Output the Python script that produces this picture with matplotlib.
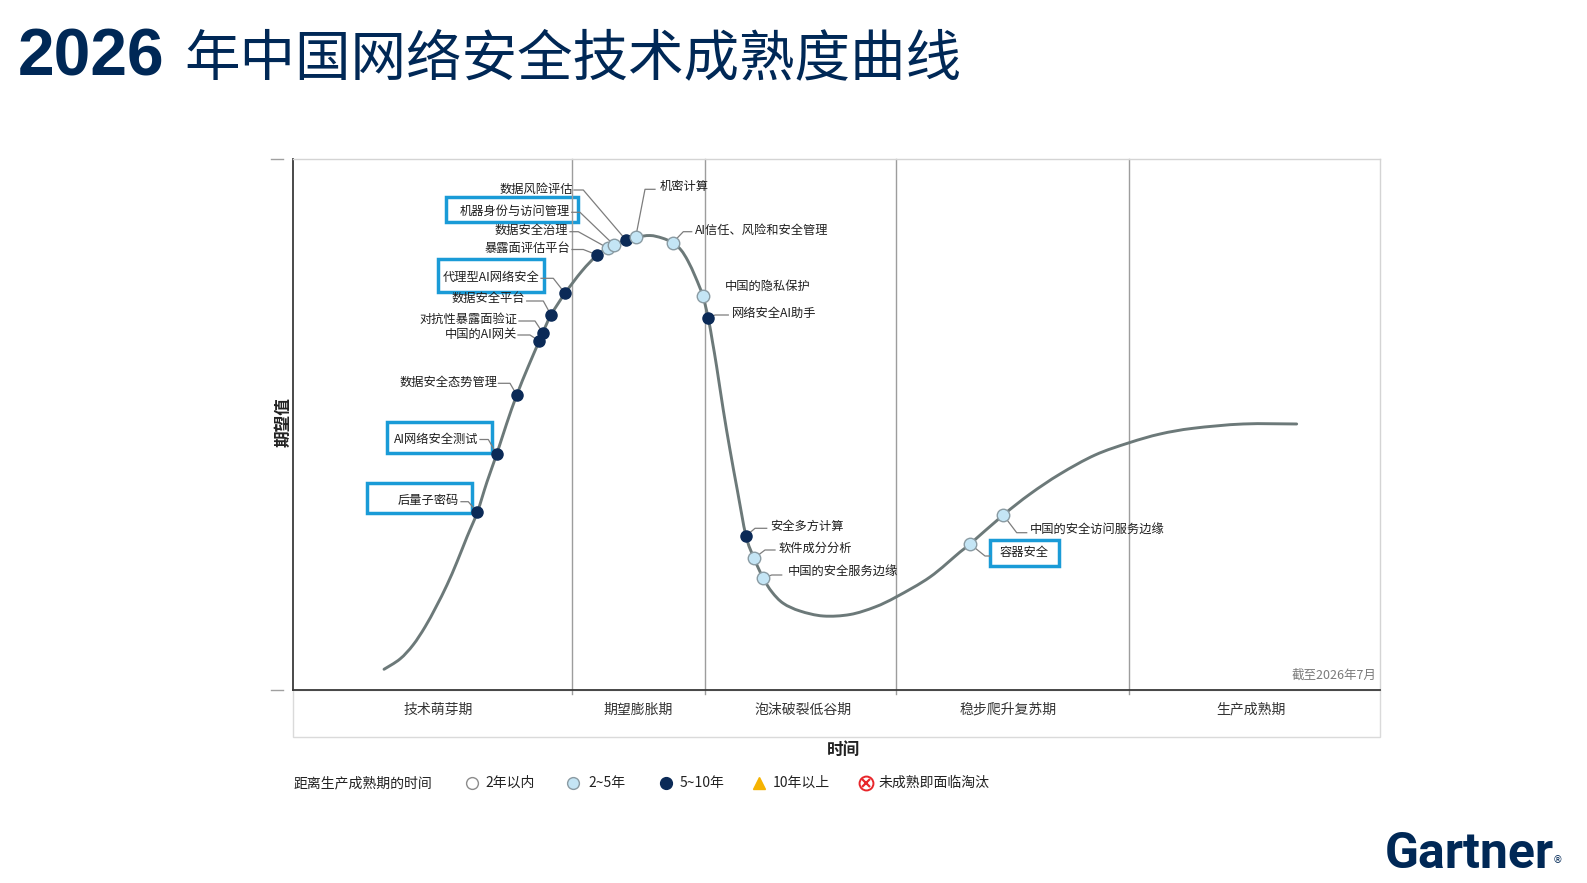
import matplotlib
matplotlib.use("Agg")
import matplotlib.pyplot as plt
from matplotlib.patches import Rectangle, PathPatch
from matplotlib.path import Path

plt.rcParams['font.family'] = ['Noto Sans CJK SC', 'DejaVu Sans']

# ---------------- data ----------------
title_num = "2026"
title_text = "年中国网络安全技术成熟度曲线"

# hype curve (time 0-100, expectation 0-100)
curve_x = [8.42, 9.89, 11.09, 12.19, 13.20, 14.21, 15.13, 16.05, 17.00, 17.89,
           18.79, 19.69, 20.63, 21.67, 22.70, 23.02, 23.78, 25.07, 26.63, 28.04,
           29.05, 29.58, 30.68, 31.57, 32.89, 33.99, 34.98, 35.74, 36.38, 37.07,
           37.74, 38.25, 38.64, 39.02, 39.63, 40.25, 40.92, 41.72, 42.46, 43.31,
           44.11, 45.15, 46.69, 48.83, 51.29, 53.59, 55.58, 58.65, 61.41, 62.33,
           65.39, 67.85, 70.61, 73.83, 76.98, 79.81, 82.87, 87.47, 92.38]
curve_y = [3.83, 5.77, 8.41, 11.80, 15.57, 19.71, 24.05, 28.76, 33.42, 39.13,
           44.40, 50.06, 55.52, 60.80, 65.70, 67.26, 70.60, 74.69, 78.89, 81.91,
           83.17, 83.79, 84.73, 85.24, 85.58, 85.11, 84.23, 82.85, 80.78, 77.76,
           74.24, 69.98, 65.51, 60.86, 52.70, 45.16, 37.62, 28.95, 24.75, 20.98,
           18.39, 16.26, 14.81, 13.87, 14.15, 15.57, 17.51, 21.22, 25.93, 27.44,
           32.91, 36.86, 40.63, 44.21, 46.53, 48.17, 49.25, 50.06, 50.06]

tech_names = ['后量子密码', 'AI网络安全测试', '数据安全态势管理', '中国的AI网关',
              '对抗性暴露面验证', '数据安全平台', '代理型AI网络安全', '暴露面评估平台',
              '数据安全治理', '机器身份与访问管理', '数据风险评估', '机密计算',
              'AI信任、风险和安全管理', '中国的隐私保护', '网络安全AI助手',
              '安全多方计算', '软件成分分析', '中国的安全服务边缘', '容器安全',
              '中国的安全访问服务边缘']
tech_x = [17.00, 18.79, 20.63, 22.70, 23.02, 23.78, 25.07, 28.04, 29.05, 29.58,
          30.68, 31.57, 34.98, 37.74, 38.25, 41.72, 42.46, 43.31, 62.33, 65.39]
tech_y = [33.42, 44.40, 55.52, 65.70, 67.26, 70.60, 74.69, 81.91, 83.17, 83.79,
          84.73, 85.24, 84.23, 74.24, 69.98, 28.95, 24.75, 20.98, 27.44, 32.91]
tech_cat = ['5~10年', '5~10年', '5~10年', '5~10年', '5~10年', '5~10年', '5~10年',
            '5~10年', '2~5年', '2~5年', '5~10年', '2~5年', '2~5年', '2~5年',
            '5~10年', '5~10年', '2~5年', '2~5年', '2~5年', '2~5年']
boxed_names = ['后量子密码', 'AI网络安全测试', '代理型AI网络安全', '机器身份与访问管理', '容器安全']

phase_bounds = [0, 25.70, 37.99, 55.49, 76.91, 100]
phase_names = ['技术萌芽期', '期望膨胀期', '泡沫破裂低谷期', '稳步爬升复苏期', '生产成熟期']

legend_title = '距离生产成熟期的时间'
legend_labels = ['2年以内', '2~5年', '5~10年', '10年以上', '未成熟即面临淘汰']
x_label = '时间'
y_label = '期望值'
as_of = '截至2026年7月'

# ---------------- styles / layout ----------------
W, H = 1587, 883
NAVY = '#0b2a57'
LIGHT = '#c4e5f5'
BLUE = '#1a9bd7'
CURVE = '#6c7979'

cat_style = {
    '2年以内': dict(marker='o', mfc='white', mec='#8c8c8c', ms=8.5, mew=1.0),
    '2~5年': dict(marker='o', mfc=LIGHT, mec='#8a9ba3', ms=9.0, mew=1.0),
    '5~10年': dict(marker='o', mfc=NAVY, mec=NAVY, ms=8.0, mew=1.0),
    '10年以上': dict(marker='^', mfc='#f5b301', mec='#f5b301', ms=8.5, mew=1.0),
}

# label layout in figure pixels: text x, text y, alignment, leader elbow points
layout = {
    '后量子密码': (459, 500, 'right', [(461, 501.7), (468.3, 501.7)]),
    'AI网络安全测试': (478.3, 439.3, 'right', [(480, 439.5), (488.3, 439.5)]),
    '数据安全态势管理': (497.3, 382.3, 'right', [(498.5, 383.3), (510, 383.3)]),
    '中国的AI网关': (516.7, 334, 'right', [(518, 335), (530, 335)]),
    '对抗性暴露面验证': (517.7, 319.3, 'right', [(519, 321), (535, 321)]),
    '数据安全平台': (525, 298.3, 'right', [(526.7, 301), (543.3, 301)]),
    '代理型AI网络安全': (539.3, 277.3, 'right', [(541, 278.3), (553.3, 278.3)]),
    '暴露面评估平台': (570.7, 248.3, 'right', [(572, 249.5), (583.3, 249.5)]),
    '数据安全治理': (568.3, 230.7, 'right', [(570, 231.7), (578.3, 231.7)]),
    '机器身份与访问管理': (570, 211.7, 'right', [(571.7, 212.3), (580, 212.3)]),
    '数据风险评估': (572.7, 189.3, 'right', [(574, 190), (583.3, 190)]),
    '机密计算': (659.3, 186.7, 'left', [(655, 189.3), (645, 189.3)]),
    'AI信任、风险和安全管理': (695, 230.7, 'left', [(691.7, 231.7), (683.3, 231.7)]),
    '中国的隐私保护': (725, 286.7, 'left', []),
    '网络安全AI助手': (731.7, 313.3, 'left', [(728.3, 315), (715, 315)]),
    '安全多方计算': (770, 526, 'left', [(766.7, 528.3), (755, 528.3)]),
    '软件成分分析': (778.3, 548.3, 'left', [(775, 550), (765, 550)]),
    '中国的安全服务边缘': (787.3, 572.7, 'left', [(781.7, 575), (771.7, 575)]),
    '容器安全': (1000, 552.7, 'left', [(990, 556), (985, 556)]),
    '中国的安全访问服务边缘': (1030, 530, 'left', [(1026.7, 532.7), (1016.7, 532.7)]),
}
boxes = {
    '后量子密码': (366.7, 482.7, 471.7, 513.3),
    'AI网络安全测试': (386.7, 421.7, 491.7, 453.3),
    '代理型AI网络安全': (438.3, 259, 544, 291.7),
    '机器身份与访问管理': (446, 197.3, 578.3, 221.7),
    '容器安全': (990, 540, 1059.3, 566),
}
phase_label_px = [438.2, 638.6, 802.6, 1008, 1251]

AX_L, AX_R, AX_T, AX_B = 292.5, 1379.5, 159.0, 689.6


def px2d(X, Y):
    return ((X - AX_L) / (AX_R - AX_L) * 100, (AX_B - Y) / (AX_B - AX_T) * 100)


def smooth_path(xs, ys):
    """Cubic Bezier path passing through every given point (Catmull-Rom style)."""
    pts = list(zip(xs, ys))
    n = len(pts)
    verts = [pts[0]]
    codes = [Path.MOVETO]
    for i in range(n - 1):
        p0 = pts[i - 1] if i > 0 else pts[i]
        p1 = pts[i]
        p2 = pts[i + 1]
        p3 = pts[i + 2] if i + 2 < n else pts[i + 1]
        c1 = (p1[0] + (p2[0] - p0[0]) / 6, p1[1] + (p2[1] - p0[1]) / 6)
        c2 = (p2[0] - (p3[0] - p1[0]) / 6, p2[1] - (p3[1] - p1[1]) / 6)
        verts += [c1, c2, p2]
        codes += [Path.CURVE4] * 3
    return Path(verts, codes)


fig = plt.figure(figsize=(W / 100, H / 100), dpi=100)
fig.patch.set_facecolor('white')

ov = fig.add_axes([0, 0, 1, 1], zorder=0)
ov.set_xlim(0, W)
ov.set_ylim(H, 0)
ov.axis('off')

ax = fig.add_axes([AX_L / W, 1 - AX_B / H, (AX_R - AX_L) / W, (AX_B - AX_T) / H], zorder=1)
ax.patch.set_alpha(0)
ax.set_xlim(0, 100)
ax.set_ylim(0, 100)
ax.set_xticks([])
ax.set_yticks([])
for s in ['top', 'right']:
    ax.spines[s].set_color('#d4d4d4')
    ax.spines[s].set_linewidth(1.0)
for s in ['left', 'bottom']:
    ax.spines[s].set_color('#3a3a3a')
    ax.spines[s].set_linewidth(1.3)

ov.add_patch(Rectangle((AX_L, AX_B), AX_R - AX_L, 737 - AX_B, fill=False,
                       edgecolor='#dadada', lw=1.0))
for yy in [AX_T, AX_B]:
    ov.plot([271, 283], [yy, yy], color='#a0a0a0', lw=1.0)

for b in phase_bounds[1:-1]:
    ax.axvline(b, ymin=-0.008, ymax=1, color='#9d9d9d', lw=1.0, clip_on=False, zorder=1)
for name, cx in zip(phase_names, phase_label_px):
    ov.text(cx, 709.8, name, ha='center', va='center', fontsize=10, color='#333333')

# curve
ax.add_patch(PathPatch(smooth_path(curve_x, curve_y), facecolor='none', edgecolor=CURVE,
                       lw=2.1, capstyle='round', zorder=2))

for name, x, y in zip(tech_names, tech_x, tech_y):
    tx, ty, ha, pts = layout[name]
    if pts:
        lx = [px2d(*p)[0] for p in pts] + [x]
        ly = [px2d(*p)[1] for p in pts] + [y]
        ax.plot(lx, ly, color='#7d7d7d', lw=0.9, zorder=2.5, clip_on=False)
    dx, dy = px2d(tx, ty)
    ax.text(dx, dy, name, ha=ha, va='center', fontsize=8.8, color='#1e1e1e',
            fontweight='medium', zorder=5, clip_on=False)
    if name in boxed_names:
        x0, y0, x1, y1 = boxes[name]
        ov.add_patch(Rectangle((x0, y0), x1 - x0, y1 - y0, fill=False, edgecolor=BLUE, lw=2.5))

for name, x, y, c in zip(tech_names, tech_x, tech_y, tech_cat):
    ax.plot([x], [y], linestyle='none', zorder=4, **cat_style[c])

ax.text(px2d(1376, 0)[0], px2d(0, 675.4)[1], as_of, ha='right', va='center',
        fontsize=9, color='#7a7a7a')

ov.text(844, 750.3, x_label, ha='center', va='center', fontsize=12, fontweight='bold',
        color='#222222')
ov.text(284, 422, y_label, ha='center', va='center', fontsize=12, fontweight='bold',
        color='#222222', rotation=90)

LY = 783
ov.text(293, LY, legend_title, ha='left', va='center', fontsize=10, color='#222222')
leg_mx = [471.5, 573, 666, 759, 865.5]
leg_tx = [485.5, 588, 679.5, 773, 878.5]
for lab, mx, tx in zip(legend_labels, leg_mx, leg_tx):
    if lab in cat_style:
        st = dict(cat_style[lab])
        st['ms'] = 8.5
        ov.plot([mx], [LY], linestyle='none', **st)
    else:
        ov.plot([mx], [LY], linestyle='none', marker='o', mfc='white', mec='#e8262b',
                ms=10, mew=1.4)
        ov.plot([mx], [LY], linestyle='none', marker='x', mec='#e8262b', ms=5.5, mew=1.6)
    ov.text(tx, LY, lab, ha='left', va='center', fontsize=10, color='#222222')

ov.text(18, 75.5, title_num, ha='left', va='baseline', fontsize=47.5, fontweight='bold',
        color='#002856', family=['Liberation Sans', 'DejaVu Sans'])
ov.text(184, 75.5, title_text, ha='left', va='baseline', fontsize=40,
        color='#002856', family=['Noto Sans CJK SC', 'DejaVu Sans'])

ov.text(1385, 868, 'Gartner', ha='left', va='baseline', fontsize=36, fontweight='bold',
        color='#002856', family=['Roboto', 'DejaVu Sans'])
ov.text(1553, 860, '®', ha='left', va='center', fontsize=7, color='#002856',
        family=['DejaVu Sans'])

fig.savefig('out.png', dpi=100, facecolor='white')
